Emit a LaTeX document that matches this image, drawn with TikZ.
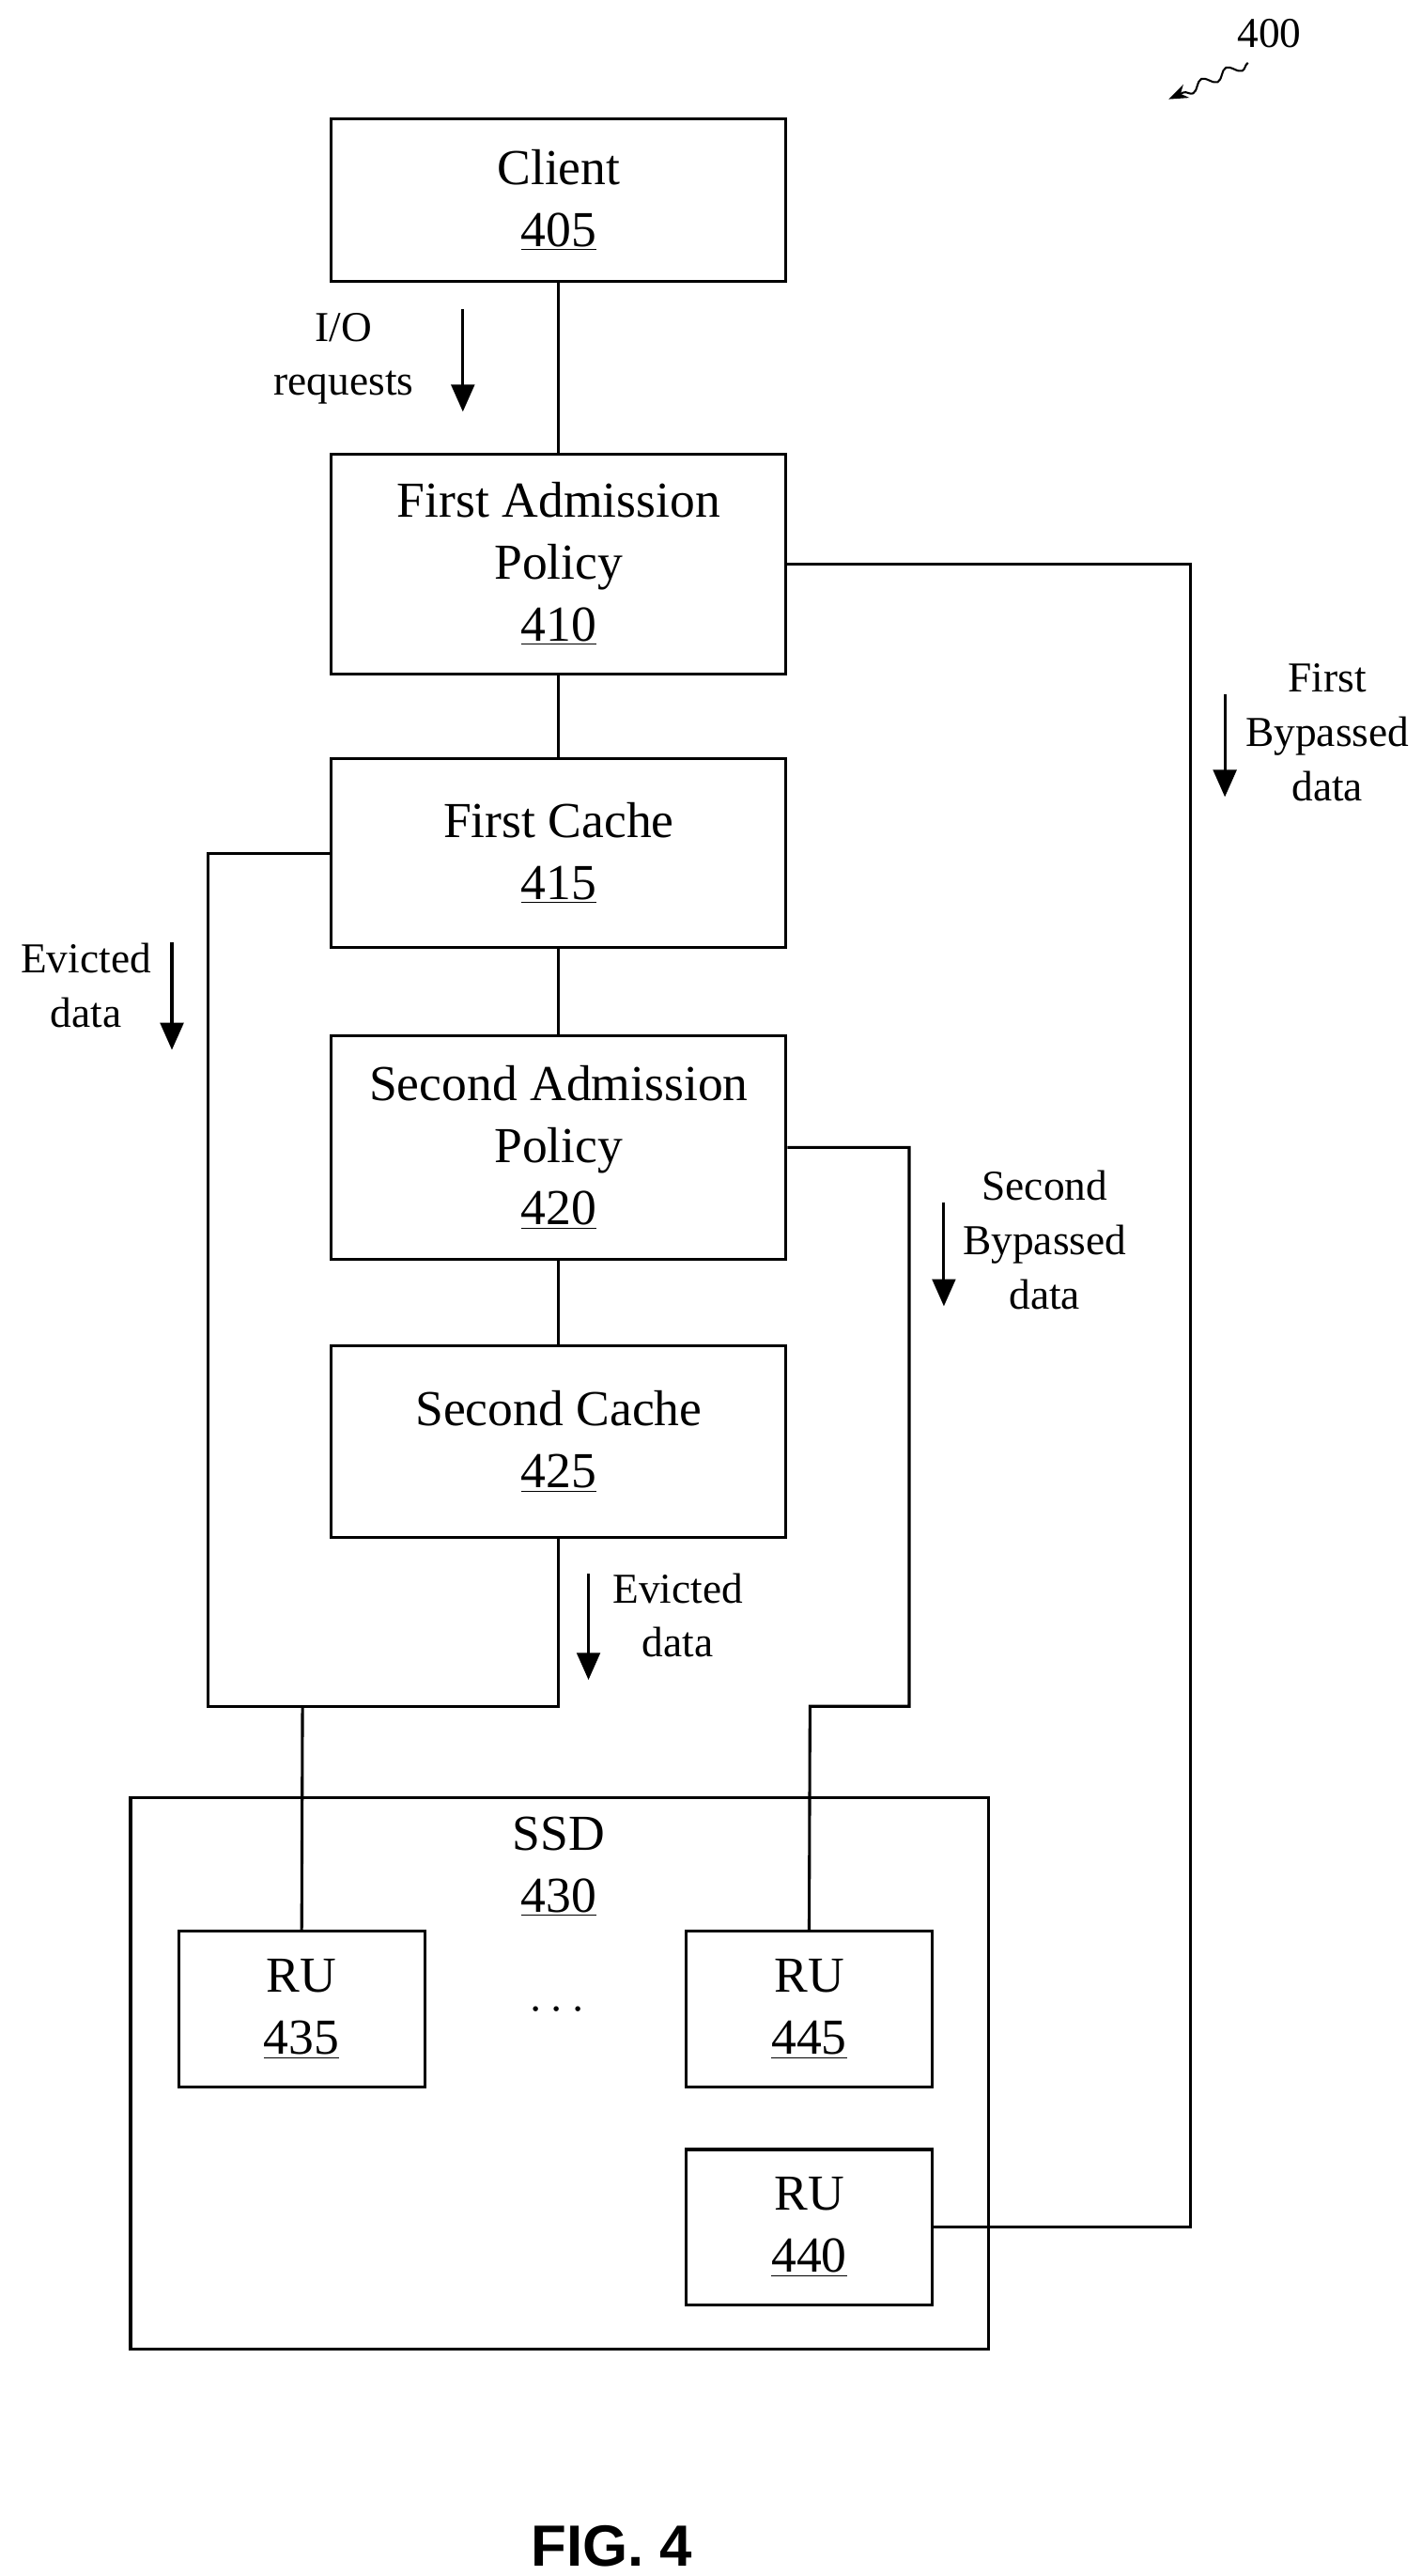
\documentclass[tikz,border=0pt]{standalone}
\usepackage{fontspec}
\setmainfont{Liberation Serif}
\setsansfont{Liberation Sans}
\usetikzlibrary{arrows.meta,decorations.pathmorphing}
\tikzset{
  blk/.style={draw,line width=1.5pt,minimum width=8.25cm,align=center,
    font=\fontsize{26}{32}\selectfont},
  ru/.style={draw,line width=1.5pt,minimum width=4.47cm,minimum height=2.82cm,
    align=center,font=\fontsize{26}{32}\selectfont},
  lbl/.style={align=center,font=\fontsize{22}{28}\selectfont},
  wire/.style={line width=1.5pt},
  flow/.style={line width=1.5pt,-{Triangle[length=14pt,width=12pt]}}
}
\begin{document}
\begin{tikzpicture}[x=0.03cm,y=-0.03cm]
\useasboundingbox (0,0) rectangle (860,1558);

\node[blk,minimum height=2.94cm] (client) at (338,121) {Client\\\underline{405}};
\node[blk,minimum height=3.99cm] (fap) at (338,341) {First Admission\\Policy\\\underline{410}};
\node[blk,minimum height=3.42cm] (fc) at (338,516) {First Cache\\\underline{415}};
\node[blk,minimum height=4.05cm] (sap) at (338,694) {Second Admission\\Policy\\\underline{420}};
\node[blk,minimum height=3.48cm] (sc) at (338,872) {Second Cache\\\underline{425}};

\node[draw,line width=1.5pt,minimum width=15.57cm,minimum height=10.02cm] (ssd) at (338.5,1254) {};
\node[blk,draw=none,minimum width=0pt] (ssdt) at (338,1129) {SSD\\\underline{430}};
\node[ru] (ru435) at (182.5,1215) {RU\\\underline{435}};
\node[ru] (ru445) at (489.5,1215) {RU\\\underline{445}};
\node[ru] (ru440) at (489.5,1347) {RU\\\underline{440}};
\node[font=\fontsize{26}{32}\selectfont] (dots) at (337,1216) {$\cdots$};

% main chain
\draw[wire] (client) -- (fap);
\draw[wire] (fap) -- (fc);
\draw[wire] (fc) -- (sap);
\draw[wire] (sap) -- (sc);

% bypass and eviction paths
\coordinate (join) at (183,1032);
\draw[wire] (fap.east) -- (720,341) -- (720,1347) -- (ru440.east);
\draw[wire] (fc.west |- 0,516) -- (126,516) -- (126,1032) -- (338,1032) -- (sc.south);
\draw[wire] (join) -- (ru435.north);
\draw[wire] (sap.east |- 0,694) -- (550,694) -- (550,1032) -- (490,1032) -- (ru445.north);

% labels and arrows
\node[lbl] (io) at (208,217) {I/O\\requests};
\draw[flow] (280,187) -- (280,249);
\node[lbl] (fbd) at (803,443) {First\\Bypassed\\data};
\draw[flow] (741,420) -- (741,482);
\node[lbl] (ev1) at (52,596) {Evicted\\data};
\draw[flow] (104,570) -- (104,635);
\node[lbl] (sbd) at (632,750) {Second\\Bypassed\\data};
\draw[flow] (571,727) -- (571,790);
\node[lbl] (ev2) at (410,977) {Evicted\\data};
\draw[flow] (356,952) -- (356,1016);

\node[lbl] (ref) at (768,20) {400};
\draw[line width=1pt,-{Stealth[length=10pt]},decorate,decoration={snake,amplitude=2.5pt,segment length=14pt,post length=8pt}] (755,38) -- (707,60);

\node[font=\sffamily\bfseries\fontsize{30}{36}\selectfont] (fig) at (370,1540) {FIG. 4};
\end{tikzpicture}
\end{document}
